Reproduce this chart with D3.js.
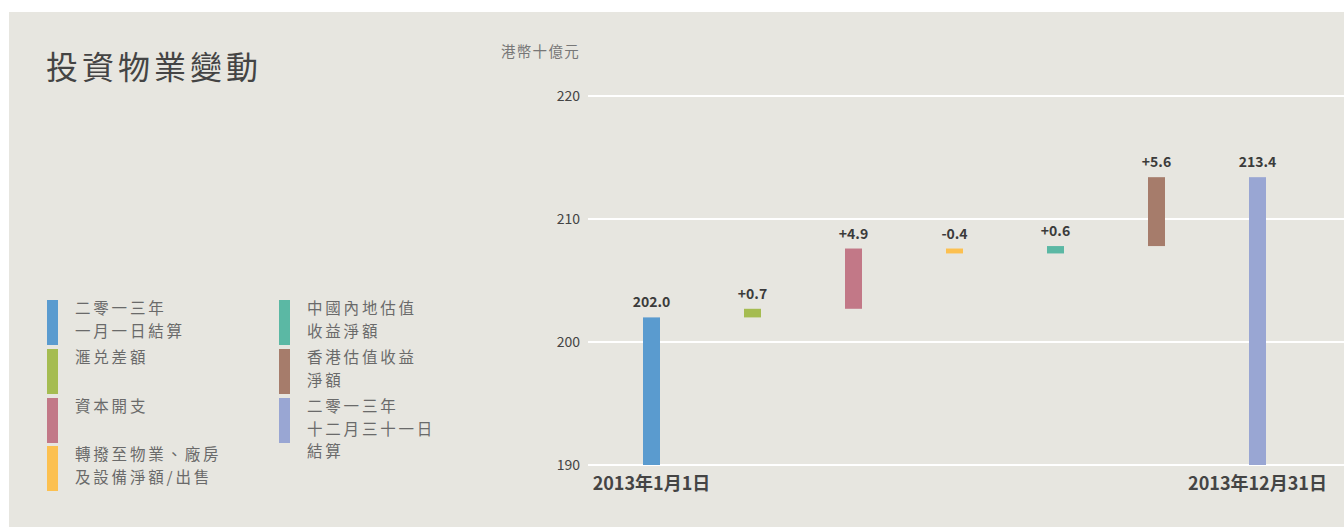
<!DOCTYPE html>
<html><head><meta charset="utf-8">
<script src="https://cdn.jsdelivr.net/npm/d3@7"></script>
<style>
html,body{margin:0;padding:0;background:#fff;}
svg{display:block;font-family:"Noto Sans CJK TC","Noto Sans",sans-serif;}
</style></head>
<body>
<svg id="c" width="1344" height="527"></svg>
<script>
// ---- data ----
const title = "投資物業變動";
const unitLabel = "港幣十億元";
const categories = ["start", "fx", "capex", "transfer", "mainland", "hk", "end"];
const values = [202.0, 0.7, 4.9, -0.4, 0.6, 5.6, 213.4];
const barTypes = ["total", "delta", "delta", "delta", "delta", "delta", "total"];
const colors = ["#5a9bcf", "#a5bc51", "#c27887", "#fcc050", "#5bb8a4", "#a67c6b", "#99a6d3"];
const legendLabels = [
  ["二零一三年", "一月一日結算"],
  ["滙兑差額"],
  ["資本開支"],
  ["轉撥至物業、廠房", "及設備淨額/出售"],
  ["中國內地估值", "收益淨額"],
  ["香港估值收益", "淨額"],
  ["二零一三年", "十二月三十一日", "結算"]
];
const yTicks = [190, 200, 210, 220];
const xTickLabels = ["2013年1月1日", "", "", "", "", "", "2013年12月31日"];

// ---- chart ----
const svg = d3.select("#c");
svg.append("rect").attr("x", 9).attr("y", 12).attr("width", 1335).attr("height", 515).attr("fill", "#e7e6e0");

const y = d3.scaleLinear().domain([190, 220]).range([465, 96]);
const x = d3.scalePoint().domain(categories).range([651.5, 1257.5]);
const barW = 17;

// grid
svg.append("g").selectAll("line").data(yTicks).join("line")
  .attr("x1", 588).attr("x2", 1344)
  .attr("y1", d => y(d)).attr("y2", d => y(d))
  .attr("stroke", "#fff").attr("stroke-width", 2);

const yAxis = d3.axisLeft(y).tickValues(yTicks).tickSize(0).tickPadding(0);
const gy = svg.append("g").attr("transform", "translate(580,0)").call(yAxis);
gy.select(".domain").remove();
gy.selectAll("text").attr("font-size", 14).attr("fill", "#444")
  .attr("font-family", "'Noto Sans CJK TC','Noto Sans',sans-serif").attr("dy", "0.35em");

svg.append("text").attr("x", 580).attr("y", 57).attr("text-anchor", "end")
  .attr("font-size", 14.5).attr("fill", "#777").attr("letter-spacing", 1.3).text(unitLabel);

// compute waterfall
let run = 0;
const bars = categories.map((c, i) => {
  let lo, hi, label;
  if (barTypes[i] === "total") {
    lo = 190; hi = values[i]; run = values[i];
    label = values[i].toFixed(1);
  } else {
    const a = run, b = run + values[i];
    lo = Math.min(a, b); hi = Math.max(a, b); run = b;
    label = (values[i] >= 0 ? "+" : "") + values[i].toFixed(1);
  }
  return {c, lo, hi, label, color: colors[i]};
});

svg.append("g").selectAll("rect").data(bars).join("rect")
  .attr("x", d => x(d.c) - barW / 2).attr("width", barW)
  .attr("y", d => y(d.hi)).attr("height", d => y(d.lo) - y(d.hi))
  .attr("fill", d => d.color);

svg.append("g").selectAll("text").data(bars).join("text")
  .attr("x", d => x(d.c)).attr("y", d => y(d.hi) - 10)
  .attr("text-anchor", "middle").attr("font-size", 14).attr("font-weight", 700)
  .attr("fill", "#3b3b3b").text(d => d.label);

// x labels
svg.append("g").selectAll("text").data(categories).join("text")
  .attr("x", d => x(d)).attr("y", 490).attr("text-anchor", "middle")
  .attr("font-size", 18).attr("font-weight", 700).attr("fill", "#444")
  .text((d, i) => xTickLabels[i]);

// title
svg.append("text").attr("x", 46).attr("y", 79).attr("font-size", 32)
  .attr("letter-spacing", 4).attr("fill", "#444").text(title);

// legend
const legPos = [[47, 300], [47, 349], [47, 398], [47, 446], [279, 300], [279, 349], [279, 398]];
const leg = svg.append("g").selectAll("g").data(legendLabels).join("g")
  .attr("transform", (d, i) => `translate(${legPos[i][0]},${legPos[i][1]})`);
leg.append("rect").attr("width", 11).attr("height", 45).attr("fill", (d, i) => colors[i]);
leg.each(function(lines) {
  const t = d3.select(this).append("text").attr("x", 28).attr("y", 14)
    .attr("font-size", 15.5).attr("letter-spacing", 2.8).attr("fill", "#6a6a6a");
  lines.forEach((l, j) => t.append("tspan").attr("x", 28).attr("y", 14 + j * 22.5).text(l));
});
</script>
</body></html>
